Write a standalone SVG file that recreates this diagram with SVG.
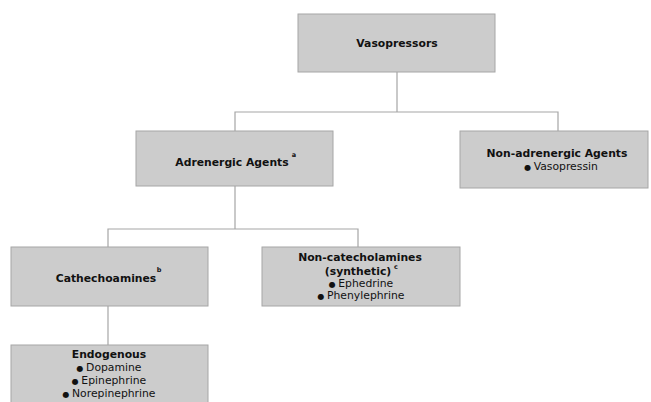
<svg xmlns="http://www.w3.org/2000/svg" width="651" height="402" viewBox="0 0 651 402">
<style>
.box{fill:#cccccc;stroke:#a6a6a6;stroke-width:1}
.c{fill:none;stroke:#a6a6a6;stroke-width:1.2}
text{font-family:"DejaVu Sans",Verdana,sans-serif;font-size:10.8px;fill:#111;text-anchor:middle}
.b{font-weight:bold}
.sup{font-size:6.5px;font-weight:bold}
.bul{font-size:8px}
</style>
<rect width="651" height="402" fill="#ffffff"/>
<g id="connectors">
<path class="c" d="M397 72V112M235 131V112H558V131"/>
<path class="c" d="M235 186V229M108 247V229H358V247"/>
<path class="c" d="M108 306V345"/>
</g>
<g id="vasopressors">
<rect class="box" x="298" y="14" width="197" height="58"/>
<text class="b" x="397" y="47">Vasopressors</text>
</g>
<g id="adrenergic">
<rect class="box" x="136" y="131" width="197" height="55"/>
<text class="b" x="232" y="166">Adrenergic Agents</text>
<text class="sup" x="294" y="157">a</text>
</g>
<g id="nonadrenergic">
<rect class="box" x="460" y="131" width="188" height="57"/>
<text class="b" x="557" y="157">Non-adrenergic Agents</text>
<text x="561" y="170"><tspan class="bul">● </tspan>Vasopressin</text>
</g>
<g id="cathechoamines">
<rect class="box" x="11" y="247" width="197" height="59"/>
<text class="b" x="106" y="282">Cathechoamines</text>
<text class="sup" x="159" y="272">b</text>
</g>
<g id="noncatecholamines">
<rect class="box" x="262" y="247" width="198" height="59"/>
<text class="b" x="360" y="261">Non-catecholamines</text>
<text class="b" x="358" y="275">(synthetic)</text>
<text class="sup" x="396" y="269">c</text>
<text x="361" y="287"><tspan class="bul">● </tspan>Ephedrine</text>
<text x="361" y="299"><tspan class="bul">● </tspan>Phenylephrine</text>
</g>
<g id="endogenous">
<rect class="box" x="11" y="345" width="197" height="62"/>
<text class="b" x="109" y="358">Endogenous</text>
<text x="109" y="371"><tspan class="bul">● </tspan>Dopamine</text>
<text x="109" y="384"><tspan class="bul">● </tspan>Epinephrine</text>
<text x="109" y="397"><tspan class="bul">● </tspan>Norepinephrine</text>
</g>
</svg>
